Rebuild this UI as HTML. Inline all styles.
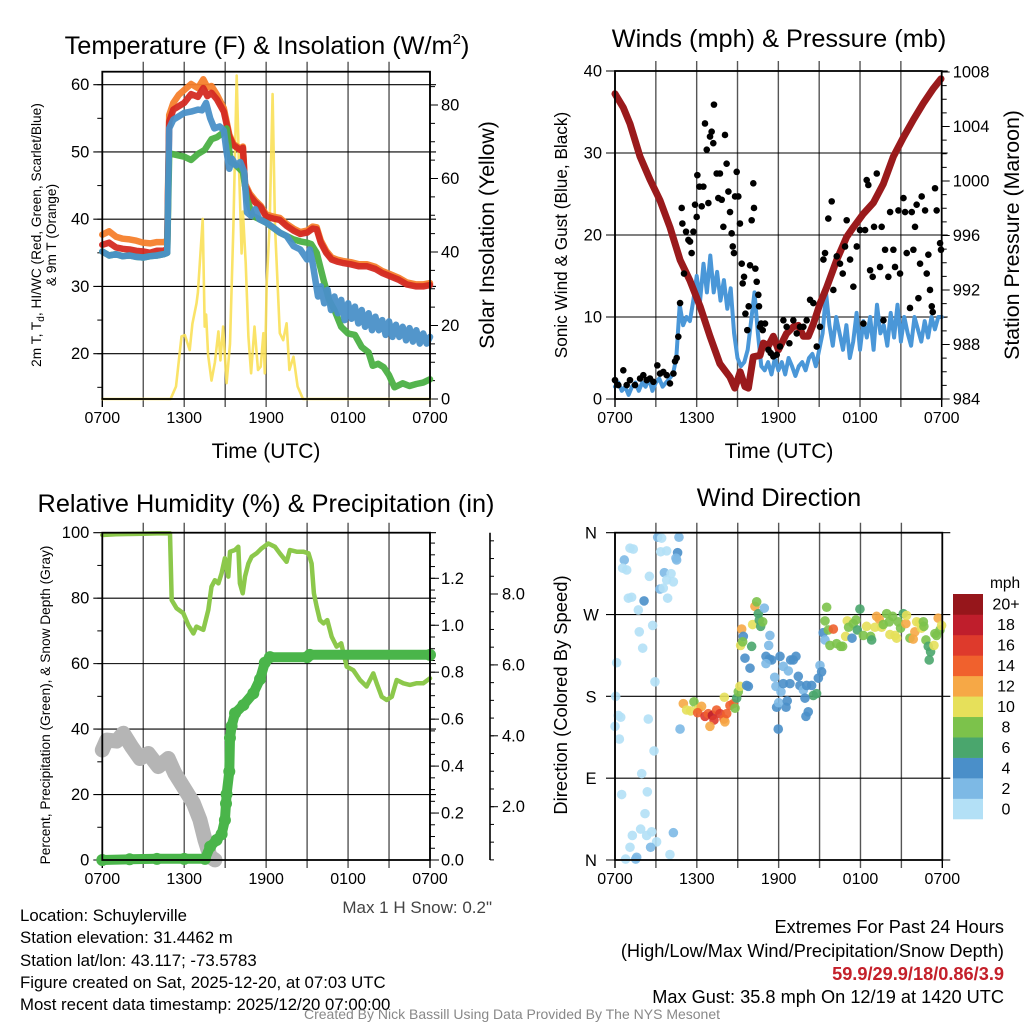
<!DOCTYPE html>
<html><head><meta charset="utf-8"><style>
html,body{margin:0;padding:0;background:#fff;}
svg{display:block;font-family:"Liberation Sans",Arial,sans-serif;}
</style></head><body>
<svg id="chart" xmlns="http://www.w3.org/2000/svg" width="1024" height="1024" viewBox="0 0 1024 1024">
<rect x="0" y="0" width="1024" height="1024" fill="#fff"/>
<text x="267" y="54" font-size="25.3" text-anchor="middle">Temperature (F) &amp; Insolation (W/m<tspan dy="-10" font-size="15">2</tspan><tspan dy="10">)</tspan></text>
<text x="779" y="47" font-size="25.3" text-anchor="middle">Winds (mph) &amp; Pressure (mb)</text>
<text x="266" y="512" font-size="25.3" text-anchor="middle">Relative Humidity (%) &amp; Precipitation (in)</text>
<text x="779" y="506" font-size="25.3" text-anchor="middle">Wind Direction</text>
<text x="266" y="458" font-size="21" text-anchor="middle">Time (UTC)</text>
<text x="779" y="458" font-size="21" text-anchor="middle">Time (UTC)</text>
<text transform="translate(41,235) rotate(-90)" font-size="13.7" text-anchor="middle">2m T, T<tspan dy="3" font-size="10">d</tspan><tspan dy="-3">, HI/WC (Red, Green, Scarlet/Blue)</tspan></text>
<text transform="translate(56,235) rotate(-90)" font-size="13.7" text-anchor="middle">&amp; 9m T (Orange)</text>
<text transform="translate(494,235) rotate(-90)" font-size="21.3" text-anchor="middle">Solar Insolation (Yellow)</text>
<text transform="translate(567,235) rotate(-90)" font-size="17.2" text-anchor="middle">Sonic Wind &amp; Gust (Blue, Black)</text>
<text transform="translate(1019,235) rotate(-90)" font-size="21.3" text-anchor="middle">Station Pressure (Maroon)</text>
<text transform="translate(50,705) rotate(-90)" font-size="13.7" text-anchor="middle">Percent, Precipitation (Green), &amp; Snow Depth (Gray)</text>
<text transform="translate(567,695) rotate(-90)" font-size="18.4" text-anchor="middle">Direction (Colored By Speed)</text>
<text x="492" y="913" font-size="17" fill="#444" text-anchor="end">Max 1 H Snow: 0.2"</text>
<g font-size="16.8" fill="#000">
<text x="20" y="921">Location: Schuylerville</text>
<text x="20" y="943">Station elevation: 31.4462 m</text>
<text x="20" y="966">Station lat/lon: 43.117; -73.5783</text>
<text x="20" y="988">Figure created on Sat, 2025-12-20, at 07:03 UTC</text>
<text x="20" y="1010">Most recent data timestamp: 2025/12/20 07:00:00</text>
</g>
<g font-size="18.2" text-anchor="end">
<text x="1004" y="933">Extremes For Past 24 Hours</text>
<text x="1004" y="957">(High/Low/Max Wind/Precipitation/Snow Depth)</text>
<text x="1004" y="980" fill="#c4202a" font-weight="bold">59.9/29.9/18/0.86/3.9</text>
<text x="1004" y="1003">Max Gust: 35.8 mph On 12/19 at 1420 UTC</text>
</g>
<text x="512" y="1019" font-size="14" fill="#888" text-anchor="middle">Created By Nick Bassill Using Data Provided By The NYS Mesonet</text>
</svg>
<script>
// ---------- DATA ----------
const xTickHours=[0,6,12,18,24];
const xTickLabels=['0700','1300','1900','0100','0700'];
const tempTicks=[20,30,40,50,60];
const solTicks=[0,20,40,60,80];
const windTicks=[0,10,20,30,40];
const presTicks=[984,988,992,996,1000,1004,1008];
const rhTicks=[0,20,40,60,80,100];
const precipTicks=[0.0,0.2,0.4,0.6,0.8,1.0,1.2];
const snowTicks=[2.0,4.0,6.0,8.0];
const dirTicks=[0,90,180,270,360];
const dirLabels=['N','E','S','W','N'];
const cbLabels=['0','2','4','6','8','10','12','14','16','18','20+'];
const cbColors=['#b3e0f6','#7db9e5','#4a8fc9','#4aa66d','#7cc24b','#e6e05a','#f6a846','#f0612d','#de3a2c','#bf1e2c','#96161b'];

const tRed=[0,0.5,1,1.5,2,2.5,3,3.5,4,4.5,4.75,4.9,5.2,5.6,6,6.5,7,7.4,7.7,8,8.4,8.9,9.3,9.6,10.1,10.3,10.45,10.8,11.2,11.6,12,12.5,13,13.5,14,14.5,15,15.4,15.7,16,16.4,16.8,17.2,17.6,18.2,18.8,19.4,20,20.5,21.1,21.7,22.3,23,23.5,24];
const vRed=[36.2,36.5,35.8,35.6,35.5,35.3,35.2,35.0,35.3,35.3,35.6,54.5,56.3,56.8,57.3,58.6,58.2,59.5,58.3,58.8,57.8,56.0,52.3,51.0,50.3,50.6,45,43.5,42.5,41.8,40.4,40.1,39.9,39,38.3,37.8,38,38.6,38.5,36.5,35,34,33.7,33.5,33.3,33,33,32.6,32,31.5,31,30.3,30,30,30.2];
const vOrange=[37.7,38.2,37.4,37.1,37.0,36.8,36.5,36.4,36.6,36.6,36.8,55.5,57.3,58.5,59.2,60.1,59.5,60.8,59.6,59.8,58.5,56.5,52.6,51.2,50.5,50.8,45.3,43.8,42.8,42.0,40.7,40.4,40.2,39.3,38.6,38.1,38.3,38.9,38.8,36.8,35.3,34.3,34,33.8,33.6,33.3,33.3,32.9,32.3,31.8,31.3,30.6,30.3,30.3,30.5];
const tGreen=[0,0.5,1,1.5,2,2.5,3,3.5,4,4.5,4.75,4.9,5.3,6,6.5,7,7.5,8,8.4,8.8,9.1,9.4,9.8,10.3,10.6,11,12,13,14,14.5,15,15.3,15.7,16.2,16.6,17,17.5,18,18.5,19,19.5,19.8,20.2,20.6,21,21.4,22,22.5,23,23.5,24];
const vGreen=[35.2,34.6,34.8,34.5,34.6,34.4,34.3,34.5,34.6,34.8,35.0,49.8,49.6,49.3,48.8,49.7,50.3,51.9,52.2,52.8,53.5,48.5,48,47,43,40.5,39.5,38,37,36.7,36.5,36.3,35,31,28,26.5,24,23,22.8,21,20.2,18.2,18.5,18,16.8,15,15.6,15.2,15.5,15.7,16.2];
const tBlue=[0,0.5,1,1.5,2,2.5,3,3.5,4,4.5,4.75,4.9,5.2,5.6,6,6.5,7,7.3,7.6,7.9,8.2,8.6,8.9,9.1,9.3,9.5,9.8,10.1,10.4,10.6,10.9,11.2,11.5,12,12.5,13,13.5,14,14.5,15,15.2,15.4,15.6,15.8,16,16.25,16.5,16.75,17,17.25,17.5,17.75,18,18.25,18.5,18.75,19,19.25,19.5,19.75,20,20.25,20.5,20.75,21,21.25,21.5,21.75,22,22.25,22.5,22.75,23,23.25,23.5,23.75,24];
const vBlue=[35.2,34.6,34.8,34.5,34.6,34.4,34.3,34.5,34.6,34.8,35.0,53.5,54.8,55.3,55.8,56,56.3,56.2,57.3,55,53.5,53.8,53.2,50,47.5,49,48,48.5,47,41,40.5,41.5,40,39.5,38.8,38,37.5,36,35.5,34,35.5,33.5,31,28.5,30,27.5,29.5,26.5,28.5,26,28,25,27.5,25.2,27,24.5,26.5,24,26,23.5,25.5,23.5,25,22.8,24.8,22.5,24.3,22.5,24,22,23.8,21.8,23.5,21.5,23,21.5,22.5];
const tSol=[0,5.0,5.4,5.8,6.05,6.4,6.6,6.9,7.0,7.35,7.5,7.6,7.75,8.0,8.25,8.5,8.65,8.85,9.1,9.35,9.6,9.84,10.0,10.2,10.3,10.5,10.7,10.9,11.15,11.4,11.6,11.8,11.9,12.05,12.25,12.47,12.65,13.0,13.25,13.5,13.7,14.0,14.3,14.7,24];
const vSol=[0,0,3.4,17,17.4,13.3,20.5,26,29,49,19.7,23,12,5,10,18.4,10.5,19.7,4.3,15,47,88,65,39.6,51,37,17,7,19.7,7.9,8.8,17.9,7,32,47,83,47,17.9,16,20.6,7.9,11.5,3.4,0,0];

const tPres=[0,0.6,1.1,1.84,2.57,3.3,4.04,4.78,5.5,6.25,6.98,7.7,8.45,8.8,9.2,9.55,9.8,10.16,10.65,10.9,11.27,11.63,12.0,12.25,12.6,13.1,13.47,13.84,14.2,14.57,15.06,15.55,16.29,17.02,17.51,18.25,18.98,19.72,20.45,21.19,21.92,22.65,23.39,23.95];
const vPres=[1006.4,1005.4,1004.2,1001.8,1000.1,998.6,996.6,994.2,992.7,990.8,988.6,986.6,985.6,984.8,986.0,984.9,984.8,987.1,987.2,988.1,987.9,988.6,987.6,988.1,988.8,989.3,989.4,988.6,988.6,989.5,991.0,992.2,994.2,995.9,996.6,997.6,998.4,999.8,1001.8,1003.2,1004.5,1005.7,1006.8,1007.5];
const vSonic=[1.5,2,1,1.5,0.5,1.5,2,1,2,1.5,2.5,1,2,2.5,1.5,2,2.5,3,5,11.5,9,10,9.5,12,15,12,16.5,13,17.5,13,15.5,12,14.5,11,13.5,8,5,4,4.5,6,9.5,13,8,4,3.5,4.5,3,5,3.5,4.5,3,5,4,2.8,4,4.5,3.5,5,5.5,4,6,8,13,9,6.5,10,8,6,9,5,7,10.5,6,9.5,7.5,10,6,11.5,8,9,6.5,10.5,7.5,11.5,7,10,8,6.5,10,8.5,7,9.5,7.5,10,8.5,10,10];
const gustH=[0,0.24,0.61,0.86,1.1,1.47,1.84,2.08,2.33,2.57,2.82,3.11,3.31,3.55,3.8,4.04,4.29,4.41,4.53,4.65,4.78,4.9,4.95,5.07,5.22,5.39,5.51,5.63,5.76,5.88,6.0,6.05,6.2,6.37,6.49,6.61,6.74,6.86,6.98,7.1,7.22,7.27,7.47,7.59,7.71,7.84,7.96,8.08,8.2,8.33,8.45,8.57,8.65,8.74,8.82,8.94,9.06,9.18,9.31,9.38,9.48,9.58,9.72,9.82,9.92,10.04,10.16,10.21,10.31,10.41,10.53,10.58,10.65,10.73,10.85,11.02,11.27,11.44,11.63,11.88,12.12,12.37,12.61,12.81,13.1,13.35,13.59,13.84,14.08,14.33,14.57,14.82,15.06,15.31,15.43,15.67,15.92,16.04,16.29,16.53,16.73,16.9,17.02,17.27,17.51,17.76,18.0,18.25,18.37,18.49,18.61,18.74,18.93,19.03,19.23,19.47,19.59,19.72,19.84,20.08,20.21,20.45,20.57,20.82,20.94,21.19,21.31,21.43,21.67,21.8,21.92,22.04,22.16,22.29,22.41,22.53,22.78,22.9,23.02,23.14,23.27,23.34,23.51,23.63,23.88,23.95];
const gustV=[2.3,1.7,3.5,1.7,2.3,1.7,2.5,2.9,2.3,2.5,2.1,4.1,3.1,3.3,2.9,1.9,3.1,4.6,5.0,7.6,11.7,23.3,21.4,15.3,20.4,19.4,19.2,17.8,20.4,23.7,22.2,27.3,25.9,23.5,25.9,33.6,30.4,23.9,32.0,32.6,31.2,35.9,27.5,24.5,27.5,24.3,21.0,32.2,28.7,25.3,22.8,20.2,18.6,17.8,24.7,27.7,24.7,21.4,16.5,14.1,14.9,10.4,8.4,11.3,16.3,21.8,26.3,23.3,15.9,14.3,12.7,11.3,8.8,9.2,8.4,9.2,6.0,5.6,5.2,5.4,6.4,9.6,8.8,6.8,9.6,8.0,8.8,8.8,9.6,12.1,11.7,6.4,8.8,17.0,17.8,22.0,24.1,13.3,17.4,16.5,15.3,18.6,21.8,17.0,13.7,18.6,20.6,9.2,20.6,26.7,26.1,15.7,14.9,21.0,27.5,16.1,21.0,9.6,18.2,14.9,22.8,18.2,16.1,23.0,15.3,24.5,22.8,17.8,11.1,22.8,18.2,21.0,23.7,12.3,16.5,24.7,23.0,15.3,17.6,13.3,11.3,10.6,25.7,23.0,19.0,18.2,21.8,20.2];

const tRH=[0,1,2,3,4,4.96,5.08,5.44,5.93,6.3,6.67,6.9,7.4,7.76,8.0,8.25,8.5,8.74,8.98,9.23,9.35,9.72,9.96,10.08,10.28,10.45,10.7,10.94,11.3,11.67,12.16,12.65,13.0,13.5,13.74,14.23,14.72,15.1,15.33,15.5,15.7,15.94,16.2,16.48,16.8,17.16,17.5,17.9,18.38,18.87,19.36,19.85,20.1,20.46,20.83,21.2,21.56,22.05,22.53,23.0,23.5,24];
const vRH=[99.3,99.5,99.6,99.7,99.8,99.8,79.4,76.9,75.4,71.8,69.2,71.3,70.3,76.4,83.5,85.5,84.5,87.6,92.2,86.6,94.2,94.7,95.7,84.5,81.5,86.6,90.6,92.7,93.7,95.2,96.7,95.7,93.7,91.1,94.7,94.2,94.2,93.7,90.6,81.5,77.4,73.3,72.3,73.3,68.2,65.2,66.2,59.1,58,55,53,57,54,49.9,48.9,49.9,55,54,53.5,54,54,55.5];
const tPrecip=[0,2,4,6,7.52,7.9,8.37,8.74,8.98,9.06,9.1,9.3,9.35,9.47,9.72,10.33,11.06,11.55,11.9,12.28,15,15.2,24];
const vPrecip=[0,0.003,0.005,0.005,0.005,0.057,0.085,0.11,0.17,0.24,0.28,0.377,0.52,0.57,0.625,0.66,0.71,0.77,0.84,0.864,0.864,0.874,0.874];
const tSnow=[0,0.32,1.05,1.54,2.15,2.76,3.37,4.1,4.83,5.32,5.93,6.67,7.15,7.52,7.9,8.25];
const vSnow=[3.6,3.88,3.85,4.07,3.69,3.36,3.5,3.13,3.36,2.94,2.56,2.1,1.63,1.06,0.59,0.5];

const dirH=[3.13,3.42,4.69,1.10,1.34,3.35,3.79,0.68,4.59,4.47,4.52,0.56,0.86,3.62,4.11,2.52,3.79,4.28,3.30,3.54,0.98,1.22,2.13,3.86,1.71,2.76,1.78,2.03,0.12,2.93,0.05,0.24,0.42,2.44,0.0,0.32,2.86,1.96,0.49,2.37,2.20,1.88,1.27,2.32,2.69,3.05,4.28,2.61,1.10,1.59,0.78,1.52,4.03,4.77,
5.01,5.25,5.55,5.79,6.11,6.35,6.06,6.60,6.84,7.14,7.26,6.96,7.45,7.70,7.99,8.06,8.19,8.43,8.68,8.02,8.80,8.92,9.04,9.16,9.29,9.21,9.41,9.36,9.53,9.65,9.78,9.90,10.02,10.09,10.26,10.39,10.51,10.58,10.68,10.83,10.95,11.36,11.27,11.07,11.31,11.49,11.07,11.71,12.10,12.34,11.80,12.17,12.34,12.71,12.88,13.27,13.07,13.44,12.83,12.54,11.85,12.00,11.97,12.63,13.56,13.81,14.05,14.17,14.00,14.42,14.54,14.78,13.93,14.91,15.03,15.15,15.27,15.40,
15.52,15.40,15.64,15.76,16.01,16.25,16.54,16.69,16.91,17.03,17.13,17.38,17.47,17.67,17.77,17.96,18.21,18.45,18.74,18.82,19.06,19.18,19.38,19.55,19.67,19.92,20.11,20.16,20.36,20.53,20.65,20.77,20.94,21.14,21.33,21.38,21.63,21.87,21.99,22.12,22.31,22.48,22.61,22.80,22.97,23.14,23.04,23.39,23.46,23.58,23.70,23.83,23.95,22.65];
const dirDeg=[355,354,355,343,342,339,340,330,338,332,330,321,319,316,315,312,308,306,298,299,288,289,285,288,275,258,251,233,217,196,180,159,157,155,147,133,120,95,72,75,51,34,27,27,31,20,30,14,14,3,1,1,6,144,
172,165,164,174,166,169,162,158,161,159,154,147,165,161,155,152,161,170,172,179,167,178,185,191,254,236,246,240,222,192,191,211,235,259,279,284,271,264,257,262,277,247,236,224,221,220,216,201,224,213,191,185,194,208,220,224,220,202,194,168,168,173,144,175,192,187,192,163,158,192,181,183,178,200,214,207,250,242,
278,263,253,236,254,238,235,235,246,263,256,244,260,264,253,276,247,257,246,242,256,268,265,256,259,271,262,248,268,247,244,262,255,271,260,269,244,243,251,262,261,255,262,242,235,229,220,236,249,247,266,253,258,257];
const dirSpeed=[3,1,3,1,1,1,1,3,5,3,3,1,1,3,1,1,1,1,3,1,1,1,5,1,1,1,1,1,1,1,1,1,1,1,1,1,1,1,1,1,1,1,1,1,1,1,3,3,1,3,1,3,1,3,
13,11,11,9,11,13,15,17,15,19,17,13,15,17,15,13,15,15,15,11,9,7,9,11,13,11,5,9,5,5,5,5,7,11,13,9,7,7,7,9,3,3,3,5,5,5,3,3,5,3,3,3,5,3,5,5,5,5,5,5,5,3,5,5,5,3,5,5,5,5,7,7,5,5,3,5,5,3,
9,9,9,9,15,9,9,9,11,11,9,5,9,9,7,7,9,11,9,7,11,13,13,11,9,9,9,11,9,11,11,9,9,7,13,11,9,13,13,11,11,11,9,9,7,7,7,11,9,9,13,9,11,9];

// ---------- HELPERS ----------
const NS='http://www.w3.org/2000/svg';
const svg=document.getElementById('chart');
function mk(tag,attrs,parent){const e=document.createElementNS(NS,tag);for(const k in attrs)e.setAttribute(k,attrs[k]);(parent||svg).appendChild(e);return e;}
function lin(a0,a1,b0,b1){return v=>b0+(v-a0)/(a1-a0)*(b1-b0);}
function pathFrom(ts,vs,xs,ys){return ts.map((t,i)=>(i?'L':'M')+xs(t).toFixed(1)+' '+ys(vs[i]).toFixed(1)).join(' ');}

const panels=[
 {name:'temp',x0:102.3,x1:430,y0:71.7,y1:399},
 {name:'wind',x0:615,x1:941.7,y0:71,y1:399},
 {name:'rh',x0:102.3,x1:430,y0:532.7,y1:860},
 {name:'dir',x0:615,x1:942.3,y0:532.7,y1:860}
];
const xs1=lin(0,24,102.3,430), yT=lin(20,60,353.7,84.7), yI=lin(0,80,399,105);
const xs2=lin(0,24,615,941.7), yW=lin(0,40,399,71), yP=lin(984,1008,399,72);
const xs3=lin(0,24,102.3,430), yRH=lin(0,100,860,532.7), yPr=lin(0,1.2,860,578.3), ySn=lin(2,8,806.7,594);
const xs4=lin(0,24,615,942.3), yD=lin(0,360,860,532.7);
const xsList=[xs1,xs2,xs3,xs4];

// ---------- GRIDS / FRAMES ----------
panels.forEach((p,pi)=>{
  const g=mk('g',{});
  
  
  const xs=xsList[pi];
  for(let h=0;h<=24;h+=3){
    const inner=(h>0&&h<24);
    const l=mk('line',{x1:xs(h),x2:xs(h),y1:p.y0-(inner?10:0),y2:p.y1+8,stroke:inner?'#555':'#000','stroke-width':1.4},g);
    
    
  }
  xTickHours.forEach((h,i)=>{
    const t=mk('text',{x:xs(h),y:p.y1+24,'font-size':16,'text-anchor':'middle'},g);
    t.textContent=xTickLabels[i];
    
    
  });
});
function hGrid(p,vals,ys,labels,side,withLine){
  vals.forEach((v,i)=>{
    const y=ys(v);
    if(withLine){
      const l=mk('line',{x1:p.x0-9,x2:p.x1+6,y1:y,y2:y,stroke:'#000','stroke-width':1.1});
      
      
    }
    const t=mk('text',{x:side==='left'?p.x0-13:p.x1+11,y:y+5.5,'font-size':16.5,'text-anchor':side==='left'?'end':'start'});
    t.textContent=labels?labels[i]:v;
    
    
  });
}
function minorTicks(x,from,to,step,ys,len,dir){
  for(let v=from;v<=to+1e-9;v+=step){
    const l=mk('line',{x1:x,x2:x+dir*len,y1:ys(v),y2:ys(v),stroke:'#000','stroke-width':1});
    
    
  }
}
const P=panels;
hGrid(P[0],tempTicks,yT,null,'left',true);
minorTicks(P[0].x0,15,60,5,yT,5,-1);
hGrid(P[0],solTicks,yI,null,'right',false);
minorTicks(P[0].x1,0,85,5,yI,5,1);
minorTicks(P[0].x1,0,80,20,yI,8,1);
hGrid(P[1],windTicks,yW,null,'left',true);
hGrid(P[1],presTicks,yP,null,'right',false);
minorTicks(P[1].x1,984,1008,1,yP,5,1);
minorTicks(P[1].x1,984,1008,4,yP,8,1);
hGrid(P[2],rhTicks,yRH,null,'left',true);
minorTicks(P[2].x0,10,90,10,yRH,5,-1);
hGrid(P[2],precipTicks,yPr,precipTicks.map(v=>v.toFixed(1)),'right',false);
minorTicks(P[2].x1,0,1.35,0.05,yPr,5,1);
minorTicks(P[2].x1,0,1.2,0.2,yPr,9,1);
// snow axis
const sax=mk('line',{x1:490,x2:490,y1:532.7,y2:860,stroke:'#000','stroke-width':1.6});


minorTicks(490,0.5,9.5,0.5,ySn,4,1);
minorTicks(490,2,8,2,ySn,8,1);
snowTicks.forEach(v=>{
  const t=mk('text',{x:502,y:ySn(v)+5.5,'font-size':16.5});
  t.textContent=v.toFixed(1);
  
  
});
// direction grid
dirTicks.forEach((v,i)=>{
  const y=yD(v);
  const l=mk('line',{x1:P[3].x0-9,x2:P[3].x1+8,y1:y,y2:y,stroke:'#000','stroke-width':1.1});
  
  
  const t=mk('text',{x:591,y:y+6,'font-size':16.5,'text-anchor':'middle'});
  t.textContent=dirLabels[i];
  
  
});

// ---------- PANEL 1 SERIES ----------
function series(ts,vs,xs,ys,color,w,name,op){
  const e=mk('path',{d:pathFrom(ts,vs,xs,ys),fill:'none',stroke:color,'stroke-width':w,'stroke-linejoin':'round','stroke-linecap':'round','stroke-opacity':op||1});
  
  
  return e;
}
series(tSol,vSol,xs1,yI,'#f9e058',2.6,'insolation-line',0.9);
series(tRed,vOrange,xs1,yT,'#f57f2c',6.5,'9m-temp-line',0.95);
series(tRed,vRed,xs1,yT,'#d42a22',6.5,'2m-temp-line',0.95);
series(tGreen,vGreen,xs1,yT,'#4bb044',6.5,'dewpoint-line',0.95);
series(tBlue,vBlue,xs1,yT,'#4a90c8',6.5,'windchill-line',0.95);

// ---------- PANEL 2 SERIES ----------
const tSonic=vSonic.map((v,i)=>i*0.25);
series(tSonic,vSonic,xs2,yW,'#4a97d8',4,'sonic-wind-line',1);
series(tPres,vPres,xs2,yP,'#9a1a1c',7,'pressure-line',1);
gustH.forEach((h,i)=>{
  const c=mk('circle',{cx:xs2(h),cy:yW(gustV[i]),r:3.3,fill:'#000'});
  
  
});

// ---------- PANEL 3 SERIES ----------
series(tSnow,vSnow,xs3,ySn,'#b5b5b5',15,'snow-depth-line',1);
series(tRH,vRH,xs3,yRH,'#8cc84b',4.5,'rh-line',1);
series(tPrecip,vPrecip,xs3,yPr,'#4ab54a',10,'precip-line',1);
tPrecip.forEach((h,i)=>{
  const c=mk('circle',{cx:xs3(h),cy:yPr(vPrecip[i]),r:6,fill:'#4ab54a'});
  
  
});

// ---------- PANEL 4 SERIES ----------
dirH.forEach((h,i)=>{
  const idx=Math.min(10,Math.floor(dirSpeed[i]/2));
  const c=mk('circle',{cx:xs4(h),cy:yD(dirDeg[i]),r:4.8,fill:cbColors[idx],'fill-opacity':0.9});
  
  
});
// colorbar
const cbTop=594,cbBot=819,cbH=(cbBot-cbTop)/cbColors.length;
cbColors.forEach((col,i)=>{
  const y=cbBot-(i+1)*cbH;
  const r=mk('rect',{x:953,y:y,width:30,height:cbH+0.3,fill:col});
  
  
  const t=mk('text',{x:1006,y:y+cbH/2+5.5,'font-size':16,'text-anchor':'middle'});
  t.textContent=cbLabels[i];
  
  
});
const mph=mk('text',{x:990,y:588,'font-size':15.5});
mph.textContent='mph';



// ---------- FRAMES ON TOP ----------
panels.forEach(p=>{
  const r=mk('rect',{x:p.x0,y:p.y0,width:p.x1-p.x0,height:p.y1-p.y0,fill:'none',stroke:'#000','stroke-width':1.8});
  
  
});
</script>
</body></html>
